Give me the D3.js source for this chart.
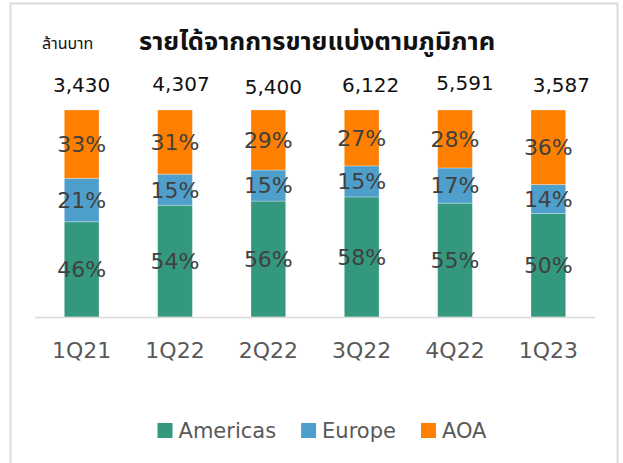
<!DOCTYPE html>
<html>
<head>
<meta charset="utf-8">
<script src="https://cdn.jsdelivr.net/npm/d3@7"></script>
<style>
  body { margin: 0; background: #fff; }
  svg { display: block; font-family: "DejaVu Sans", sans-serif; }
</style>
</head>
<body>
<div id="chart"></div>
<script>
// data
const quarters = ["1Q21", "1Q22", "2Q22", "3Q22", "4Q22", "1Q23"];
const totals = ["3,430", "4,307", "5,400", "6,122", "5,591", "3,587"];
const americas = [46, 54, 56, 58, 55, 50];
const europe = [21, 15, 15, 15, 17, 14];
const aoa = [33, 31, 29, 27, 28, 36];
const seriesNames = ["Americas", "Europe", "AOA"];

// the total labels are hand-placed text boxes in the original, small nudges
const totalNudgeX = [0, 6, 5, 9, 10, 13];
const totalNudgeY = [0, -1, 2, 0, -2, 0];

const width = 623, height = 463;
const colors = d3.scaleOrdinal()
    .domain(seriesNames)
    .range(["#34987F", "#4F9FCC", "#FF8000"]);

const svg = d3.select("#chart").append("svg")
    .attr("width", width)
    .attr("height", height);

// chart frame (bottom edge runs off the picture)
svg.append("rect")
    .attr("x", 10.5).attr("y", 3.5)
    .attr("width", 607).attr("height", 480)
    .attr("fill", "#fff")
    .attr("stroke", "#dcdcdc")
    .attr("stroke-width", 2);

const x = d3.scaleBand()
    .domain(quarters)
    .range([35, 595])
    .paddingInner(0.628)
    .paddingOuter(0.314);

const y = d3.scaleLinear()
    .domain([0, 100])
    .range([317, 110]);

// build a table for the stack
const table = quarters.map((q, i) => ({
    q, Americas: americas[i], Europe: europe[i], AOA: aoa[i]
}));
const stacked = d3.stack().keys(seriesNames)(table);

const layers = svg.append("g").selectAll("g")
    .data(stacked)
    .join("g")
    .attr("fill", d => colors(d.key));

layers.selectAll("rect")
    .data(d => d)
    .join("rect")
    .attr("x", d => x(d.data.q))
    .attr("y", d => y(d[1]))
    .attr("width", x.bandwidth())
    .attr("height", d => y(d[0]) - y(d[1]))
    .attr("stroke", "#fff")
    .attr("stroke-opacity", 0.35)
    .attr("stroke-width", 0.8);

// percentage labels
layers.selectAll("text")
    .data(d => d)
    .join("text")
    .attr("x", d => x(d.data.q) + x.bandwidth() / 2)
    .attr("y", d => (y(d[0]) + y(d[1])) / 2)
    .attr("dy", "0.36em")
    .attr("text-anchor", "middle")
    .attr("font-size", 22)
    .attr("fill", "#404040")
    .text(d => (d[1] - d[0]) + "%");

// axis line
svg.append("line")
    .attr("x1", 35).attr("x2", 595)
    .attr("y1", y(0) + 0.5).attr("y2", y(0) + 0.5)
    .attr("stroke", "#d9d9d9")
    .attr("stroke-width", 1.5);

// category labels
const xAxis = svg.append("g")
    .attr("transform", `translate(0,${y(0)})`)
    .call(d3.axisBottom(x).tickSize(0).tickPadding(0));
xAxis.select(".domain").remove();
xAxis.selectAll("text")
    .attr("y", 41)
    .attr("dy", null)
    .attr("font-family", "DejaVu Sans")
    .attr("font-size", 22)
    .attr("fill", "#595959");

// totals above bars
svg.append("g").selectAll("text")
    .data(quarters)
    .join("text")
    .attr("x", (q, i) => x(q) + x.bandwidth() / 2 + totalNudgeX[i])
    .attr("y", (q, i) => y(100) - 18 + totalNudgeY[i])
    .attr("text-anchor", "middle")
    .attr("font-size", 20)
    .attr("fill", "#111")
    .text((q, i) => totals[i]);

// titles
svg.append("text")
    .attr("x", 42).attr("y", 49)
    .attr("font-family", "'Noto Sans Thai', Tahoma, 'DejaVu Sans', sans-serif")
    .attr("font-size", 16)
    .attr("fill", "#111")
    .text("ล้านบาท");

svg.append("text")
    .attr("x", 139).attr("y", 50)
    .attr("font-family", "'Noto Sans Thai', Tahoma, 'DejaVu Sans', sans-serif")
    .attr("font-size", 25.5)
    .attr("font-weight", "bold")
    .attr("fill", "#111")
    .text("รายได้จากการขายแบ่งตามภูมิภาค");

// legend
const legend = svg.append("g");
let lx = 0;
seriesNames.forEach((name, i) => {
    const item = legend.append("g").attr("transform", `translate(${lx},0)`);
    item.append("rect")
        .attr("x", 0).attr("y", 423)
        .attr("width", 15).attr("height", 15)
        .attr("fill", colors(name));
    const t = item.append("text")
        .attr("x", 21).attr("y", 438)
        .attr("font-size", 21)
        .attr("fill", "#595959")
        .text(name);
    lx += 21 + t.node().getComputedTextLength() + 25;
});
const legendWidth = lx - 25;
legend.attr("transform", `translate(${322 - legendWidth / 2},0)`);
</script>
</body>
</html>
